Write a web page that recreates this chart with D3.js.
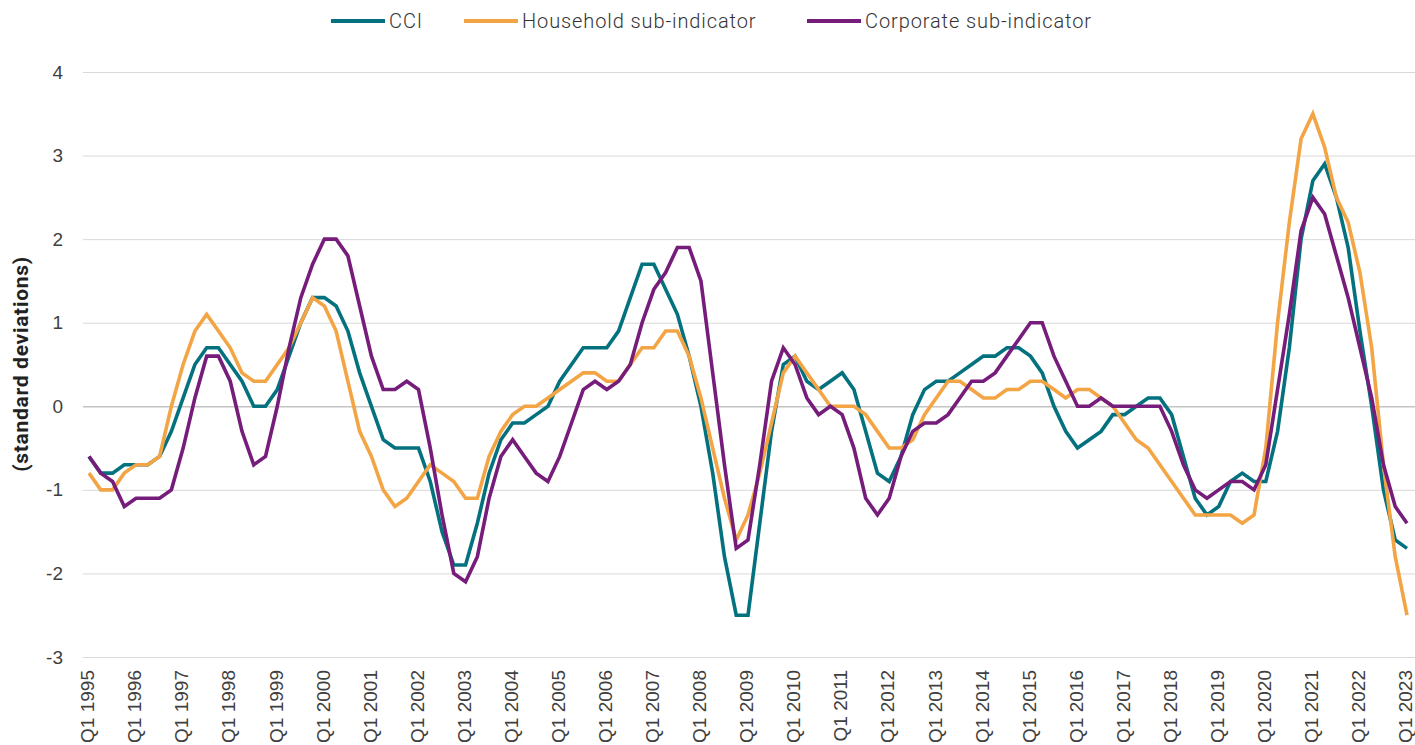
<!DOCTYPE html>
<html>
<head>
<meta charset="utf-8">
<script src="https://cdn.jsdelivr.net/npm/d3@7"></script>
<style>
  body { margin: 0; background: #fff; }
  svg { font-family: Roboto, "Liberation Sans", sans-serif; }
  .grid line { stroke: #d9d9d9; stroke-width: 1; }
  .grid .zero line { stroke: #c4c4c4; stroke-width: 1.5; }
  .tick text { fill: #404040; font-size: 19px; font-weight: 300; }
</style>
</head>
<body>
<div id="chart"></div>
<script>
// quarterly categories, Q1 1995 .. Q1 2023
var quarters = [];
for (var yr = 1995; yr <= 2023; yr++) {
  for (var q = 1; q <= 4; q++) {
    if (yr === 2023 && q > 1) break;
    quarters.push("Q" + q + " " + yr);
  }
}
var xTickLabels = quarters.filter(function(d) { return d.indexOf("Q1") === 0; });
var yTicks = [-3, -2, -1, 0, 1, 2, 3, 4];

var seriesNames = ["CCI", "Household sub-indicator", "Corporate sub-indicator"];
var seriesColors = ["#04717f", "#f3a545", "#761d7b"];

// one row = three years (12 quarters)
var cci = [
  -0.6, -0.8, -0.8, -0.7,   -0.7, -0.7, -0.6, -0.3,   0.1, 0.5, 0.7, 0.7,
  0.5, 0.3, 0.0, 0.0,       0.2, 0.6, 1.0, 1.3,       1.3, 1.2, 0.9, 0.4,
  0.0, -0.4, -0.5, -0.5,    -0.5, -0.9, -1.5, -1.9,   -1.9, -1.4, -0.8, -0.4,
  -0.2, -0.2, -0.1, 0.0,    0.3, 0.5, 0.7, 0.7,       0.7, 0.9, 1.3, 1.7,
  1.7, 1.4, 1.1, 0.6,       0.0, -0.8, -1.8, -2.5,    -2.5, -1.4, -0.3, 0.5,
  0.6, 0.3, 0.2, 0.3,       0.4, 0.2, -0.3, -0.8,     -0.9, -0.6, -0.1, 0.2,
  0.3, 0.3, 0.4, 0.5,       0.6, 0.6, 0.7, 0.7,       0.6, 0.4, 0.0, -0.3,
  -0.5, -0.4, -0.3, -0.1,   -0.1, 0.0, 0.1, 0.1,      -0.1, -0.6, -1.1, -1.3,
  -1.2, -0.9, -0.8, -0.9,   -0.9, -0.3, 0.7, 2.0,     2.7, 2.9, 2.5, 1.9,
  0.9, 0.0, -1.0, -1.6,     -1.7
];

var household = [
  -0.8, -1.0, -1.0, -0.8,   -0.7, -0.7, -0.6, 0.0,    0.5, 0.9, 1.1, 0.9,
  0.7, 0.4, 0.3, 0.3,       0.5, 0.7, 1.0, 1.3,       1.2, 0.9, 0.3, -0.3,
  -0.6, -1.0, -1.2, -1.1,   -0.9, -0.7, -0.8, -0.9,   -1.1, -1.1, -0.6, -0.3,
  -0.1, 0.0, 0.0, 0.1,      0.2, 0.3, 0.4, 0.4,       0.3, 0.3, 0.5, 0.7,
  0.7, 0.9, 0.9, 0.6,       0.1, -0.5, -1.1, -1.6,    -1.3, -0.8, -0.2, 0.4,
  0.6, 0.4, 0.2, 0.0,       0.0, 0.0, -0.1, -0.3,     -0.5, -0.5, -0.4, -0.1,
  0.1, 0.3, 0.3, 0.2,       0.1, 0.1, 0.2, 0.2,       0.3, 0.3, 0.2, 0.1,
  0.2, 0.2, 0.1, 0.0,       -0.2, -0.4, -0.5, -0.7,   -0.9, -1.1, -1.3, -1.3,
  -1.3, -1.3, -1.4, -1.3,   -0.5, 1.0, 2.2, 3.2,      3.5, 3.1, 2.5, 2.2,
  1.6, 0.7, -0.7, -1.8,     -2.5
];

var corporate = [
  -0.6, -0.8, -0.9, -1.2,   -1.1, -1.1, -1.1, -1.0,   -0.5, 0.1, 0.6, 0.6,
  0.3, -0.3, -0.7, -0.6,    0.0, 0.7, 1.3, 1.7,       2.0, 2.0, 1.8, 1.2,
  0.6, 0.2, 0.2, 0.3,       0.2, -0.5, -1.3, -2.0,    -2.1, -1.8, -1.1, -0.6,
  -0.4, -0.6, -0.8, -0.9,   -0.6, -0.2, 0.2, 0.3,     0.2, 0.3, 0.5, 1.0,
  1.4, 1.6, 1.9, 1.9,       1.5, 0.4, -0.7, -1.7,     -1.6, -0.7, 0.3, 0.7,
  0.5, 0.1, -0.1, 0.0,      -0.1, -0.5, -1.1, -1.3,   -1.1, -0.6, -0.3, -0.2,
  -0.2, -0.1, 0.1, 0.3,     0.3, 0.4, 0.6, 0.8,       1.0, 1.0, 0.6, 0.3,
  0.0, 0.0, 0.1, 0.0,       0.0, 0.0, 0.0, 0.0,       -0.3, -0.7, -1.0, -1.1,
  -1.0, -0.9, -0.9, -1.0,   -0.7, 0.2, 1.1, 2.1,      2.5, 2.3, 1.8, 1.3,
  0.7, 0.1, -0.7, -1.2,     -1.4
];

var allSeries = [cci, household, corporate];

var svgWidth = 1415, svgHeight = 745;
var gridLeft = 83;

var svg = d3.select("#chart").append("svg")
  .attr("width", svgWidth)
  .attr("height", svgHeight);

var x = d3.scalePoint().domain(quarters).range([89, 1407]);
var y = d3.scaleLinear().domain([-3, 4]).range([657, 72]);

// y axis + gridlines
var yAxis = svg.append("g")
  .attr("class", "grid")
  .attr("transform", "translate(" + gridLeft + ",0)")
  .call(d3.axisLeft(y).tickValues(yTicks).tickSize(-(svgWidth - gridLeft)).tickPadding(20)
    .tickFormat(function(d) { return String(d); }));
yAxis.select(".domain").remove();
yAxis.selectAll(".tick").classed("zero", function(d) { return d === 0; });
yAxis.selectAll(".tick text").style("text-anchor", "end");

// x axis labels (rotated)
var xAxis = svg.append("g")
  .attr("transform", "translate(0," + y(-3) + ")")
  .call(d3.axisBottom(x).tickValues(xTickLabels).tickSize(0));
xAxis.select(".domain").remove();
xAxis.selectAll(".tick text")
  .attr("transform", "rotate(-90)")
  .attr("x", -13)
  .attr("y", 0)
  .attr("dy", "0.25em")
  .style("text-anchor", "end");

// y axis title
svg.append("text")
  .attr("transform", "translate(22,364) rotate(-90)")
  .attr("text-anchor", "middle")
  .attr("dominant-baseline", "middle")
  .style("font-size", "21px")
  .style("font-weight", "bold")
  .style("letter-spacing", "0.7px")
  .style("fill", "#222")
  .text("(standard deviations)");

// lines
var line = d3.line()
  .x(function(d, i) { return x(quarters[i]); })
  .y(function(d) { return y(d); });

allSeries.forEach(function(vals, k) {
  svg.append("path")
    .datum(vals)
    .attr("fill", "none")
    .attr("stroke", seriesColors[k])
    .attr("stroke-width", 3.6)
    .attr("stroke-linejoin", "miter")
    .attr("d", line);
});

// legend
var legendX = [331, 464, 807];
var legend = svg.append("g").attr("transform", "translate(0,21)");
seriesNames.forEach(function(name, k) {
  legend.append("line")
    .attr("x1", legendX[k]).attr("x2", legendX[k] + 54)
    .attr("y1", 0).attr("y2", 0)
    .attr("stroke", seriesColors[k])
    .attr("stroke-width", 4);
  legend.append("text")
    .attr("x", legendX[k] + 58)
    .attr("y", 0)
    .attr("dy", "0.35em")
    .style("font-size", "20px")
    .style("font-weight", 300)
    .style("letter-spacing", "0.9px")
    .style("fill", "#333")
    .text(name);
});
</script>
</body>
</html>
